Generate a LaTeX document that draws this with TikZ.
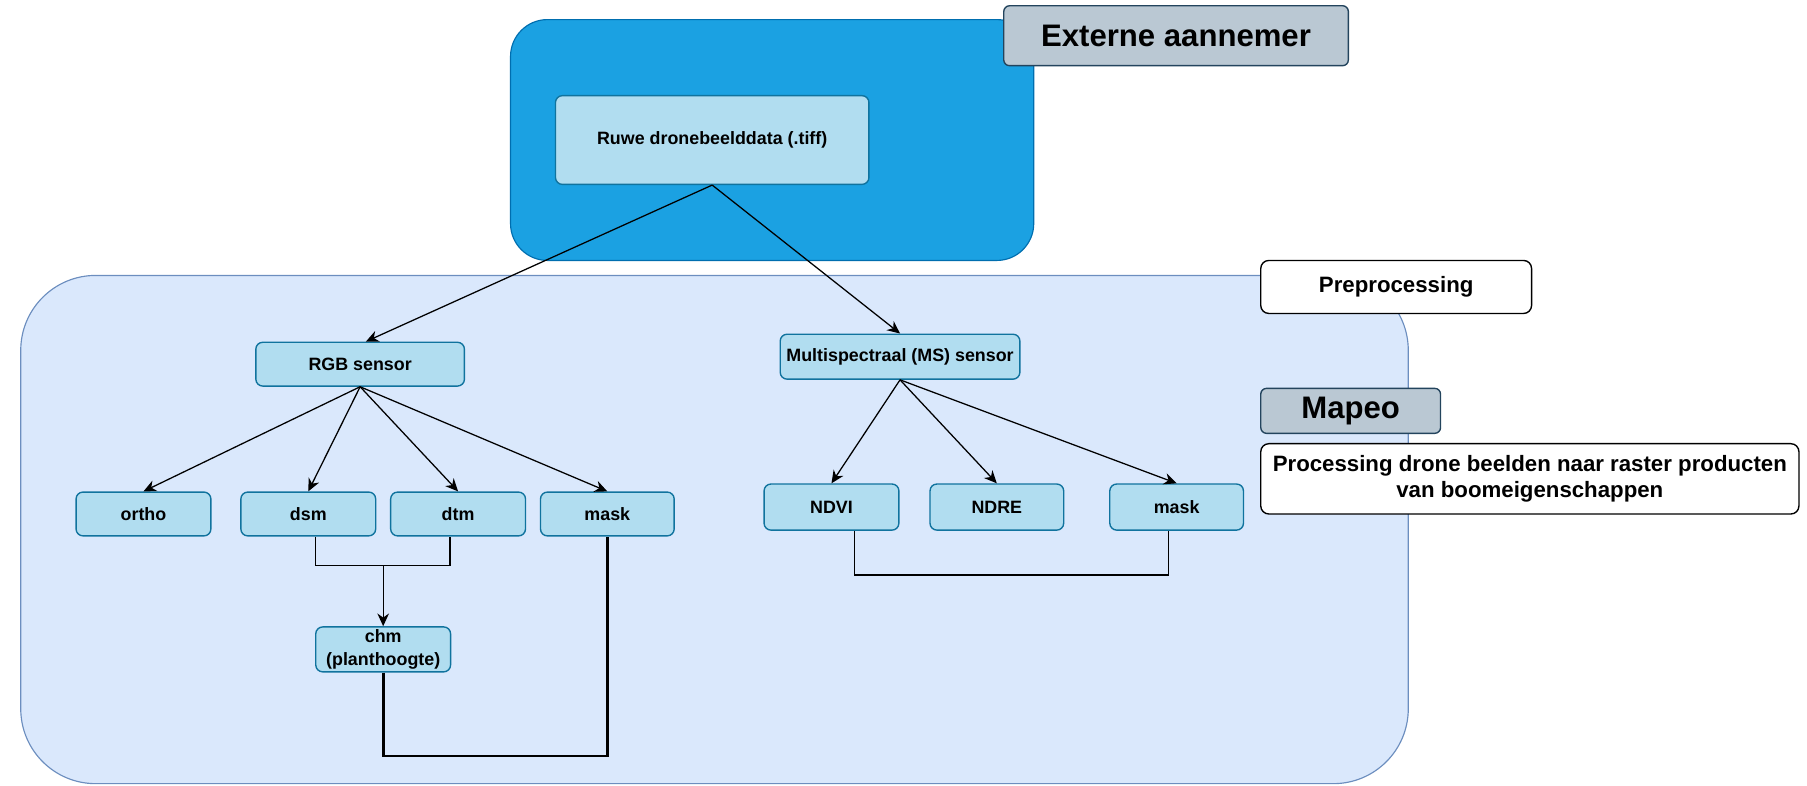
\documentclass[tikz,border=0pt]{standalone}
\usepackage{fontspec}
\setmainfont{Liberation Sans}
\usetikzlibrary{arrows.meta}
\definecolor{outerfill}{HTML}{DAE8FC}
\definecolor{outerline}{HTML}{6C8EBF}
\definecolor{bluefill}{HTML}{1BA1E2}
\definecolor{blueline}{HTML}{006EAF}
\definecolor{boxfill}{HTML}{B1DDF0}
\definecolor{boxline}{HTML}{10739E}
\definecolor{greyfill}{HTML}{BAC8D3}
\definecolor{greyline}{HTML}{23445D}
\tikzset{
  container/.style={draw=outerline, fill=outerfill, line width=1pt, rounded corners=65pt, inner sep=0pt},
  bluebox/.style={draw=blueline, fill=bluefill, line width=1pt, rounded corners=32pt, inner sep=0pt},
  databox/.style={draw=boxline, fill=boxfill, line width=1.2pt, rounded corners=6pt, inner sep=0pt,
    align=center, font=\fontsize{15.5}{20}\selectfont\bfseries},
  labelbox/.style={draw=greyline, fill=greyfill, line width=1.2pt, rounded corners=5pt, inner sep=0pt,
    font=\fontsize{27}{32}\selectfont\bfseries},
  notebox/.style={draw=black, fill=white, line width=1.2pt, rounded corners=7pt, inner sep=0pt,
    align=center, font=\fontsize{19.3}{23}\selectfont\bfseries},
  arr/.style={draw=black, line width=1.1pt, -{Stealth[length=11pt, width=10pt, inset=3.5pt]}},
  link/.style={draw=black, line width=1.1pt},
  thicklink/.style={draw=black, line width=2.6pt},
  medlink/.style={draw=black, line width=1.6pt},
}
\begin{document}
\begin{tikzpicture}[x=1pt, y=-1pt]
\useasboundingbox (0,0) rectangle (1568,682);
% containers
\node[container, minimum width=1204pt, minimum height=441pt] (prep) at (620,459.5) {};
\node[bluebox, minimum width=454pt, minimum height=209pt] (ext) at (670,121.5) {};
\node[labelbox, minimum width=299pt, minimum height=52pt] (extlabel) at (1020.5,31) {Externe aannemer};
\node[databox, minimum width=272pt, minimum height=77pt] (ruwe) at (618,121.5) {Ruwe dronebeelddata (.tiff)};
\node[notebox, minimum width=235pt, minimum height=46pt] (preplabel) at (1211.5,249) {Preprocessing};
\node[labelbox, minimum width=156pt, minimum height=39pt] (mapeo) at (1172,356.5) {Mapeo};
\node[notebox, minimum width=467pt, minimum height=61pt] (proc) at (1327.5,415.5) {Processing drone beelden naar raster producten\\van boomeigenschappen};
% sensors
\node[databox, minimum width=181pt, minimum height=38pt] (rgb) at (312.5,316) {RGB sensor};
\node[databox, minimum width=208pt, minimum height=39pt] (ms) at (781,309.5) {Multispectraal (MS) sensor};
% RGB products
\node[databox, minimum width=117pt, minimum height=38pt] (ortho) at (124.5,446) {ortho};
\node[databox, minimum width=117pt, minimum height=38pt] (dsm) at (267.5,446) {dsm};
\node[databox, minimum width=117pt, minimum height=38pt] (dtm) at (397.5,446) {dtm};
\node[databox, minimum width=116pt, minimum height=38pt] (maskA) at (527,446) {mask};
\node[databox, minimum width=117pt, minimum height=39pt] (chm) at (332.5,563.5) {chm\\(planthoogte)};
% MS products
\node[databox, minimum width=117pt, minimum height=40pt] (ndvi) at (721.5,440) {NDVI};
\node[databox, minimum width=116pt, minimum height=40pt] (ndre) at (865,440) {NDRE};
\node[databox, minimum width=116pt, minimum height=40pt] (maskB) at (1021,440) {mask};
% connectors
\draw[arr] (ruwe.south) -- ([xshift=5pt]rgb.north);
\draw[arr] (ruwe.south) -- (ms.north);
\foreach \n in {ortho,dsm,dtm,maskA} \draw[arr] (rgb.south) -- (\n.north);
\foreach \n in {ndvi,ndre,maskB} \draw[arr] (ms.south) -- (\n.north);
\coordinate (j1) at (332.5,491);
\draw[link] ([xshift=6.5pt]dsm.south) |- (j1) -| ([xshift=-7pt]dtm.south);
\draw[arr] (j1) -- (chm.north);
\coordinate (j2) at (430,656);
\draw[thicklink, line join=miter] (chm.south) |- (j2) -| (maskA.south);
\coordinate (j3) at (880,499);
\draw[medlink] ([xshift=20pt]ndvi.south) |- (j3) -| ([xshift=-7pt]maskB.south);
\end{tikzpicture}
\end{document}
